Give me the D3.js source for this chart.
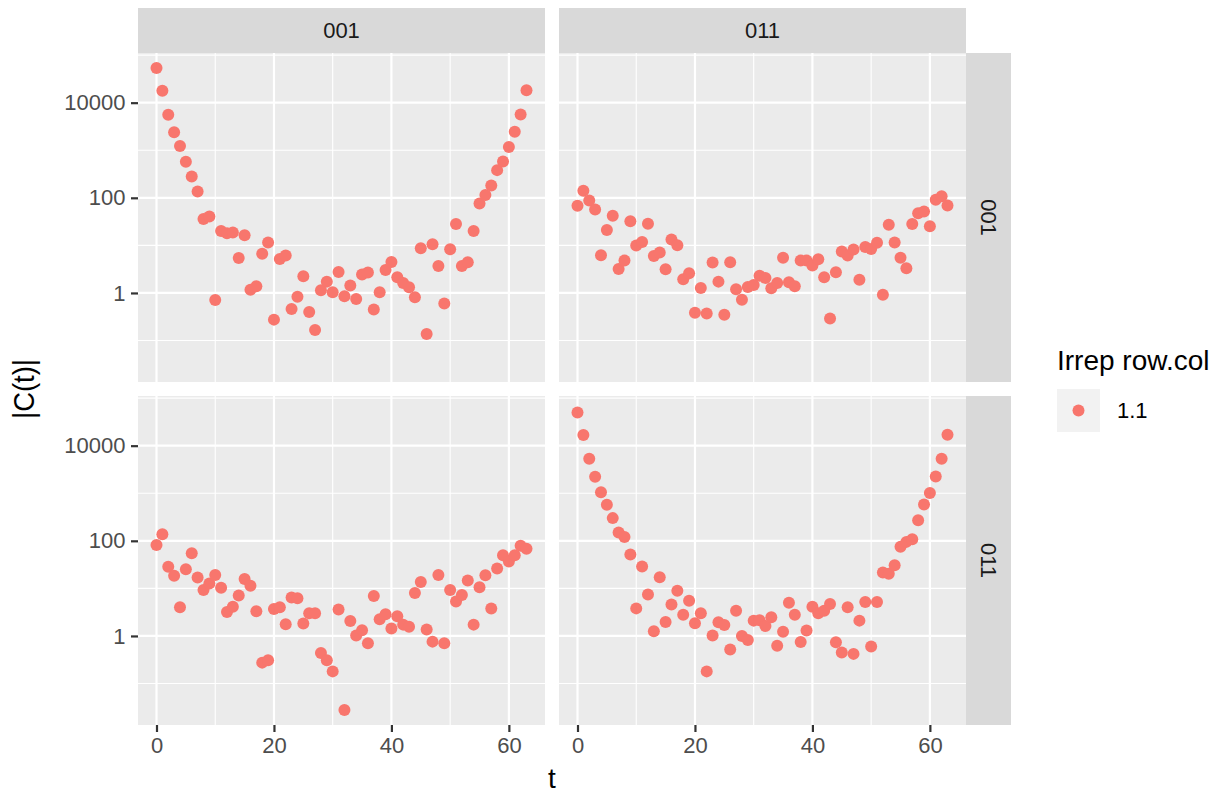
<!DOCTYPE html>
<html><head><meta charset="utf-8">
<script src="https://cdn.jsdelivr.net/npm/d3@7/dist/d3.min.js"></script>
<style>
body{margin:0;background:#fff}
text{font-family:"Liberation Sans",Arial,Helvetica,sans-serif}
</style>
</head><body><svg id="c" width="1225" height="794"></svg>
<script>
// ---------------- data ----------------
const tValues = d3.range(0, 64);
const colLabels = ["001", "011"];
const rowLabels = ["001", "011"];
// |C(t)| for row facet / column facet
const vals_r001_c001 = [53700,17800,5600,2400,1230,575,280,136,36,40.5,
  0.71,20,18,18.6,5.4,16.3,1.17,1.38,6.7,11.5,
  0.275,5.2,6.1,0.46,0.83,2.24,0.40,0.166,1.14,1.73,
  1.03,2.77,0.85,1.43,0.75,2.43,2.68,0.45,1.03,3.05,
  4.5,2.14,1.62,1.32,0.81,8.7,0.137,10.6,3.7,0.60,
  8.3,28.3,3.7,4.4,20,76,114,182,382,580,
  1170,2450,5650,18200];
const vals_r001_c011 = [68,141,88,57,6.2,21,42,3.2,4.8,32,
  10,11.8,28.4,6.0,7.1,3.15,13.3,10.1,1.94,2.6,
  0.385,1.27,0.37,4.35,1.73,0.35,4.4,1.19,0.72,1.34,
  1.47,2.3,2.07,1.25,1.62,5.5,1.68,1.38,4.8,4.8,
  3.76,5.1,2.14,0.29,2.72,7.4,6.1,8.2,1.9,9.3,
  8.4,11.3,0.92,27,11.5,5.5,3.3,28,47.5,51.6,
  25.3,91,108,69];
const vals_r011_c001 = [82,138,28.5,18.4,4.0,25.3,55,16.9,9.3,12.6,
  19.2,10.3,3.2,4.1,7.1,15.8,11.3,3.3,0.275,0.31,
  3.7,4.0,1.76,6.4,6.2,1.82,3.0,3.0,0.44,0.31,
  0.18,3.6,0.0277,2.07,1.02,1.32,0.70,6.9,2.24,2.86,
  1.43,2.6,1.73,1.57,8.0,13.7,1.36,0.76,19.2,0.70,
  9.3,5.3,7.3,14.6,1.73,10.6,18.9,3.76,26.2,50,
  36.7,50,78.5,68];
const vals_r011_c011 = [50000,16700,5330,2210,1050,575,300,150,120,51.6,
  3.8,28.8,7.4,1.25,17.2,1.97,4.6,8.9,2.8,5.5,
  1.85,3.0,0.18,1.02,1.94,1.7,0.52,3.4,1.0,0.82,
  2.1,2.14,1.62,2.47,0.62,1.23,5.0,2.8,0.75,1.3,
  4.1,3.0,3.4,4.7,0.74,0.45,4.0,0.42,2.1,5.2,
  0.6,5.2,21.5,20.2,30.8,75,95,108,272,582,
  1010,2250,5330,17000];
const xTicks = [0, 20, 40, 60];
const xMinor = [10, 30, 50];
const yTicks = [1, 100, 10000];
const yTickLabels = ["1", "100", "10000"];
const yMinor = [0.1, 10, 1000, 100000];
const legendTitle = "Irrep row.col";
const legendLabels = ["1.1"];
const xTitle = "t";
const yTitle = "|C(t)|";

const series = [[vals_r001_c001, vals_r001_c011], [vals_r011_c001, vals_r011_c011]];

// ---------------- layout ----------------
const colX = [138, 559], panelW = 407;
const rowY = [53, 396], panelH = 329;
const stripH = 45;
const pointColor = "#F8766D";

const svg = d3.select("#c");
svg.append("rect").attr("width", 1225).attr("height", 794).attr("fill", "#fff");

const tExt = d3.extent(tValues);
const tPad = (tExt[1] - tExt[0]) * 0.05;
const allVals = series.flat(2);
const lExt = d3.extent(allVals).map(Math.log10);
const lPad = (lExt[1] - lExt[0]) * 0.05;
const yDomain = [Math.pow(10, lExt[0] - lPad), Math.pow(10, lExt[1] + lPad)];

const defs = svg.append("defs");

series.forEach((row, r) => {
  row.forEach((vals, c) => {
    const x0 = colX[c], y0 = rowY[r];
    const x = d3.scaleLinear().domain([tExt[0] - tPad, tExt[1] + tPad]).range([x0, x0 + panelW]);
    const y = d3.scaleLog().domain(yDomain).range([y0 + panelH, y0]);
    const id = `clip${r}${c}`;
    defs.append("clipPath").attr("id", id).append("rect")
      .attr("x", x0).attr("y", y0).attr("width", panelW).attr("height", panelH);
    const g = svg.append("g").attr("clip-path", `url(#${id})`);
    g.append("rect").attr("x", x0).attr("y", y0).attr("width", panelW).attr("height", panelH).attr("fill", "#EBEBEB");
    // minor grid
    g.selectAll(null).data(yMinor.filter(v => v > yDomain[0] && v < yDomain[1])).join("line")
      .attr("x1", x0).attr("x2", x0 + panelW).attr("y1", d => y(d)).attr("y2", d => y(d))
      .attr("stroke", "#fff").attr("stroke-width", 1.1);
    g.selectAll(null).data(xMinor).join("line")
      .attr("y1", y0).attr("y2", y0 + panelH).attr("x1", d => x(d)).attr("x2", d => x(d))
      .attr("stroke", "#fff").attr("stroke-width", 1.1);
    // major grid
    g.selectAll(null).data(yTicks).join("line")
      .attr("x1", x0).attr("x2", x0 + panelW).attr("y1", d => y(d)).attr("y2", d => y(d))
      .attr("stroke", "#fff").attr("stroke-width", 2.2);
    g.selectAll(null).data(xTicks).join("line")
      .attr("y1", y0).attr("y2", y0 + panelH).attr("x1", d => x(d)).attr("x2", d => x(d))
      .attr("stroke", "#fff").attr("stroke-width", 2.2);
    // points
    g.selectAll(null).data(tValues.map((t, i) => ({t, v: vals[i]}))).join("circle")
      .attr("cx", d => x(d.t)).attr("cy", d => y(d.v)).attr("r", 6).attr("fill", pointColor);

    // axes
    if (c === 0) {
      const ax = svg.append("g").attr("transform", `translate(${x0},0)`)
        .call(d3.axisLeft(y).tickValues(yTicks).tickFormat((d, i) => yTickLabels[i]).tickSize(7).tickPadding(5.5));
      styleAxis(ax);
    }
    if (r === 1) {
      const ax = svg.append("g").attr("transform", `translate(0,${y0 + panelH})`)
        .call(d3.axisBottom(x).tickValues(xTicks).tickFormat(d3.format("d")).tickSize(7).tickPadding(5.5));
      styleAxis(ax);
    }
  });
});

function styleAxis(ax) {
  ax.select(".domain").remove();
  ax.selectAll(".tick line").attr("stroke", "#333333").attr("stroke-width", 2.2);
  ax.selectAll(".tick text").attr("fill", "#4D4D4D").style("font-size", "22px");
}

// strips
colLabels.forEach((lab, c) => {
  svg.append("rect").attr("x", colX[c]).attr("y", rowY[0] - stripH).attr("width", panelW).attr("height", stripH).attr("fill", "#D9D9D9");
  svg.append("text").attr("x", colX[c] + panelW / 2).attr("y", rowY[0] - stripH / 2).attr("dy", "0.35em")
    .attr("text-anchor", "middle").attr("fill", "#1A1A1A").style("font-size", "22px").text(lab);
});
rowLabels.forEach((lab, r) => {
  const sx = colX[1] + panelW;
  svg.append("rect").attr("x", sx).attr("y", rowY[r]).attr("width", stripH).attr("height", panelH).attr("fill", "#D9D9D9");
  svg.append("text").attr("transform", `translate(${sx + stripH / 2},${rowY[r] + panelH / 2}) rotate(90)`)
    .attr("dy", "0.35em").attr("text-anchor", "middle").attr("fill", "#1A1A1A").style("font-size", "22px").text(lab);
});

// axis titles
svg.append("text").attr("x", (colX[0] + colX[1] + panelW) / 2).attr("y", 788)
  .attr("text-anchor", "middle").style("font-size", "28px").attr("fill", "#000").text(xTitle);
svg.append("text").attr("transform", `translate(34,${(rowY[0] + rowY[1] + panelH) / 2}) rotate(-90)`)
  .attr("text-anchor", "middle").style("font-size", "30px").attr("fill", "#000")
  .attr("textLength", 60).attr("lengthAdjust", "spacingAndGlyphs").text(yTitle);

// legend
const lg = svg.append("g");
lg.append("text").attr("x", 1057).attr("y", 370).style("font-size", "28px").attr("fill", "#000").text(legendTitle);
legendLabels.forEach((lab, i) => {
  const ky = 389 + i * 43;
  lg.append("rect").attr("x", 1057).attr("y", ky).attr("width", 43).attr("height", 43).attr("fill", "#F2F2F2");
  lg.append("circle").attr("cx", 1078.5).attr("cy", ky + 21.5).attr("r", 6).attr("fill", pointColor);
  lg.append("text").attr("x", 1117).attr("y", ky + 21.5).attr("dy", "0.35em").style("font-size", "22px").attr("fill", "#000").text(lab);
});
</script>
</body></html>
